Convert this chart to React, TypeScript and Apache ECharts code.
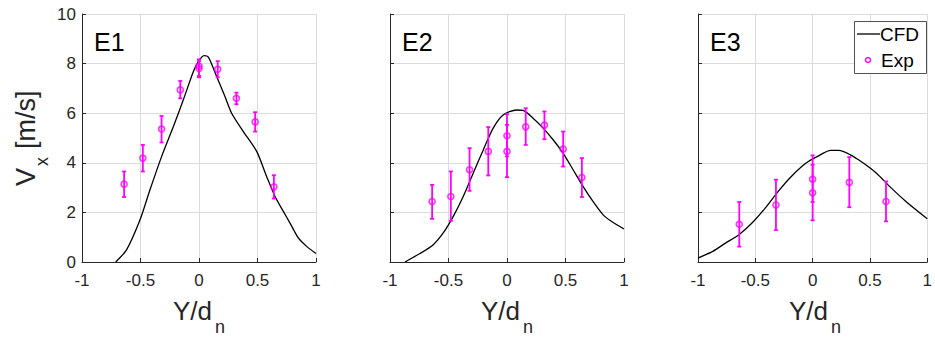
import React, { useEffect, useRef } from "react";
import * as echarts from "echarts";

// ---------- data ----------
const xTicks = [-1, -0.5, 0, 0.5, 1];
const yTicks = [0, 2, 4, 6, 8, 10];
const panelNames = ["E1", "E2", "E3"];

const e1CfdX = [-0.712, -0.618, -0.504, -0.419, -0.319, -0.219, -0.134, -0.048, -0.006, 0.043, 0.08, 0.151, 0.222, 0.279, 0.379, 0.493, 0.578, 0.65, 0.721, 0.778, 0.849, 0.92, 1.0];
const e1CfdY = [0, 0.5, 1.7, 2.91, 4.26, 5.46, 6.54, 7.68, 8.08, 8.32, 8.26, 7.48, 6.67, 6.0, 5.26, 4.46, 3.45, 2.64, 2.04, 1.57, 0.97, 0.63, 0.34];
const e1ExpX = [-0.64, -0.48, -0.32, -0.16, 0, 0, 0.16, 0.32, 0.48, 0.64];
const e1ExpY = [3.14, 4.19, 5.36, 6.94, 7.9, 7.8, 7.77, 6.6, 5.65, 3.03];
const e1ExpLo = [2.62, 3.65, 4.82, 6.6, 7.5, 7.45, 7.45, 6.36, 5.26, 2.56];
const e1ExpHi = [3.65, 4.72, 5.89, 7.3, 8.17, 8.1, 8.1, 6.83, 6.04, 3.5];

const e2CfdX = [-0.872, -0.744, -0.63, -0.545, -0.459, -0.374, -0.289, -0.203, -0.118, -0.033, 0.081, 0.138, 0.223, 0.309, 0.394, 0.479, 0.565, 0.65, 0.735, 0.82, 0.891, 1.0];
const e2CfdY = [0, 0.34, 0.7, 1.17, 1.84, 2.64, 3.58, 4.52, 5.4, 5.93, 6.13, 6.11, 5.8, 5.4, 4.93, 4.39, 3.72, 3.05, 2.44, 1.91, 1.64, 1.33];
const e2ExpX = [-0.64, -0.48, -0.32, -0.16, 0, 0, 0.16, 0.32, 0.48, 0.64];
const e2ExpY = [2.44, 2.64, 3.72, 4.46, 5.09, 4.46, 5.45, 5.52, 4.55, 3.41];
const e2ExpLo = [1.74, 1.66, 2.87, 3.49, 4.26, 3.42, 4.72, 4.95, 3.85, 2.62];
const e2ExpHi = [3.11, 3.65, 4.59, 5.44, 5.96, 5.53, 6.2, 6.07, 5.26, 4.19];

const e3CfdX = [-1.0, -0.871, -0.757, -0.643, -0.529, -0.414, -0.3, -0.186, -0.057, 0.043, 0.157, 0.229, 0.329, 0.429, 0.557, 0.671, 0.814, 1.0];
const e3CfdY = [0.16, 0.43, 0.77, 1.1, 1.57, 2.17, 2.85, 3.45, 3.99, 4.26, 4.5, 4.5, 4.32, 4.03, 3.58, 3.05, 2.44, 1.74];
const e3ExpX = [-0.64, -0.32, 0, 0, 0.32, 0.64];
const e3ExpY = [1.52, 2.3, 3.34, 2.79, 3.21, 2.44];
const e3ExpLo = [0.62, 1.29, 2.42, 1.68, 2.21, 1.64];
const e3ExpHi = [2.42, 3.32, 4.3, 3.92, 4.23, 3.25];

const panels = [
  { cx: e1CfdX, cy: e1CfdY, ex: e1ExpX, ey: e1ExpY, lo: e1ExpLo, hi: e1ExpHi },
  { cx: e2CfdX, cy: e2CfdY, ex: e2ExpX, ey: e2ExpY, lo: e2ExpLo, hi: e2ExpHi },
  { cx: e3CfdX, cy: e3CfdY, ex: e3ExpX, ey: e3ExpY, lo: e3ExpLo, hi: e3ExpHi },
];

// ---------- layout / style ----------
const FONT = "Liberation Sans";
const AX = "#262626";
const GRIDC = "#dcdcdc";
const MAG = "#ff00ff";
const gridLefts = [82, 390, 698];
const gridTop = 14;
const gridW = 234;
const gridH = 248;

export default function App() {
  const ref = useRef<HTMLDivElement>(null);
  useEffect(() => {
    document.body.style.margin = "0";
    const chart = echarts.init(ref.current!, null, { renderer: "svg" });

    const grid = gridLefts.map((l) => ({ left: l, top: gridTop, width: gridW, height: gridH }));
    const xAxis = gridLefts.map((_, i) => ({
      type: "value",
      gridIndex: i,
      min: xTicks[0],
      max: xTicks[xTicks.length - 1],
      interval: 0.5,
      axisLine: { show: true, onZero: false, lineStyle: { color: AX, width: 1 } },
      axisTick: { show: true, inside: true, length: 4, lineStyle: { color: AX } },
      axisLabel: { show: true, margin: 10, fontFamily: FONT, fontSize: 17, color: AX },
      splitLine: { show: true, lineStyle: { color: GRIDC, width: 1 } },
    }));
    const yAxis = gridLefts.map((_, i) => ({
      type: "value",
      gridIndex: i,
      min: yTicks[0],
      max: yTicks[yTicks.length - 1],
      interval: 2,
      axisLine: { show: true, onZero: false, lineStyle: { color: AX, width: 1 } },
      axisTick: { show: true, inside: true, length: 4, lineStyle: { color: AX } },
      axisLabel: { show: i === 0, margin: 6, fontFamily: FONT, fontSize: 17, color: AX },
      splitLine: { show: true, lineStyle: { color: GRIDC, width: 1 } },
    }));

    const series: any[] = [];
    panels.forEach((p, i) => {
      series.push({
        type: "line",
        xAxisIndex: i,
        yAxisIndex: i,
        data: p.cx.map((x, k) => [x, p.cy[k]]),
        showSymbol: false,
        smooth: 0.25,
        lineStyle: { color: "#000", width: 1.3 },
        clip: true,
        z: 2,
      });
      series.push({
        type: "custom",
        xAxisIndex: i,
        yAxisIndex: i,
        data: p.ex.map((x, k) => [x, p.lo[k], p.hi[k]]),
        encode: { x: 0, y: [1, 2] },
        renderItem: (params: any, api: any) => {
          const x = api.value(0);
          const a = api.coord([x, api.value(1)]);
          const b = api.coord([x, api.value(2)]);
          const w = 2;
          const st = { stroke: MAG, lineWidth: 1.8 };
          return {
            type: "group",
            children: [
              { type: "line", shape: { x1: a[0], y1: a[1], x2: b[0], y2: b[1] }, style: st },
              { type: "line", shape: { x1: a[0] - w, y1: a[1], x2: a[0] + w, y2: a[1] }, style: st },
              { type: "line", shape: { x1: b[0] - w, y1: b[1], x2: b[0] + w, y2: b[1] }, style: st },
            ],
          };
        },
        z: 3,
      });
      series.push({
        type: "scatter",
        xAxisIndex: i,
        yAxisIndex: i,
        data: p.ex.map((x, k) => [x, p.ey[k]]),
        symbol: "circle",
        symbolSize: 6,
        itemStyle: { color: "rgba(0,0,0,0)", borderColor: MAG, borderWidth: 1.6 },
        z: 4,
      });
    });

    const graphic: any[] = [];
    gridLefts.forEach((l, i) => {
      graphic.push({
        type: "text",
        x: l + 12,
        y: 42,
        style: { text: panelNames[i], fontFamily: FONT, fontSize: 25, fill: "#000", align: "left", verticalAlign: "middle" },
      });
      const c = l + gridW / 2;
      graphic.push({
        type: "text",
        x: c - 26,
        y: 311,
        style: { text: "Y/d", fontFamily: FONT, fontSize: 26, fill: AX, align: "left", verticalAlign: "middle" },
      });
      graphic.push({
        type: "text",
        x: c + 16,
        y: 327,
        style: { text: "n", fontFamily: FONT, fontSize: 18, fill: AX, align: "left", verticalAlign: "middle" },
      });
    });
    // y axis label
    graphic.push({
      type: "text", x: 26, y: 186, rotation: Math.PI / 2,
      style: { text: "V", fontFamily: FONT, fontSize: 27, fill: AX, align: "left", verticalAlign: "middle" },
    });
    graphic.push({
      type: "text", x: 42, y: 166, rotation: Math.PI / 2,
      style: { text: "x", fontFamily: FONT, fontSize: 18, fill: AX, align: "left", verticalAlign: "middle" },
    });
    graphic.push({
      type: "text", x: 26, y: 149, rotation: Math.PI / 2,
      style: { text: "[m/s]", fontFamily: FONT, fontSize: 27, fill: AX, align: "left", verticalAlign: "middle" },
    });
    // legend
    graphic.push({
      type: "rect", shape: { x: 854.5, y: 21.5, width: 72, height: 52 },
      style: { fill: "#fff", stroke: AX, lineWidth: 0.8 }, z: 10,
    });
    graphic.push({
      type: "line", shape: { x1: 857, y1: 34, x2: 880, y2: 34 },
      style: { stroke: "#000", lineWidth: 1.3 }, z: 11,
    });
    graphic.push({
      type: "text", x: 880, y: 34,
      style: { text: "CFD", fontFamily: FONT, fontSize: 19, fill: "#000", align: "left", verticalAlign: "middle" }, z: 11,
    });
    graphic.push({
      type: "circle", shape: { cx: 868, cy: 60, r: 2.5 },
      style: { fill: "none", stroke: MAG, lineWidth: 1.5 }, z: 11,
    });
    graphic.push({
      type: "text", x: 881, y: 60,
      style: { text: "Exp", fontFamily: FONT, fontSize: 19, fill: "#000", align: "left", verticalAlign: "middle" }, z: 11,
    });

    chart.setOption({
      animation: false,
      backgroundColor: "#fff",
      grid,
      xAxis,
      yAxis,
      series,
      graphic,
    });
    return () => chart.dispose();
  }, []);
  return <div ref={ref} style={{ width: 935, height: 343 }} />;
}
